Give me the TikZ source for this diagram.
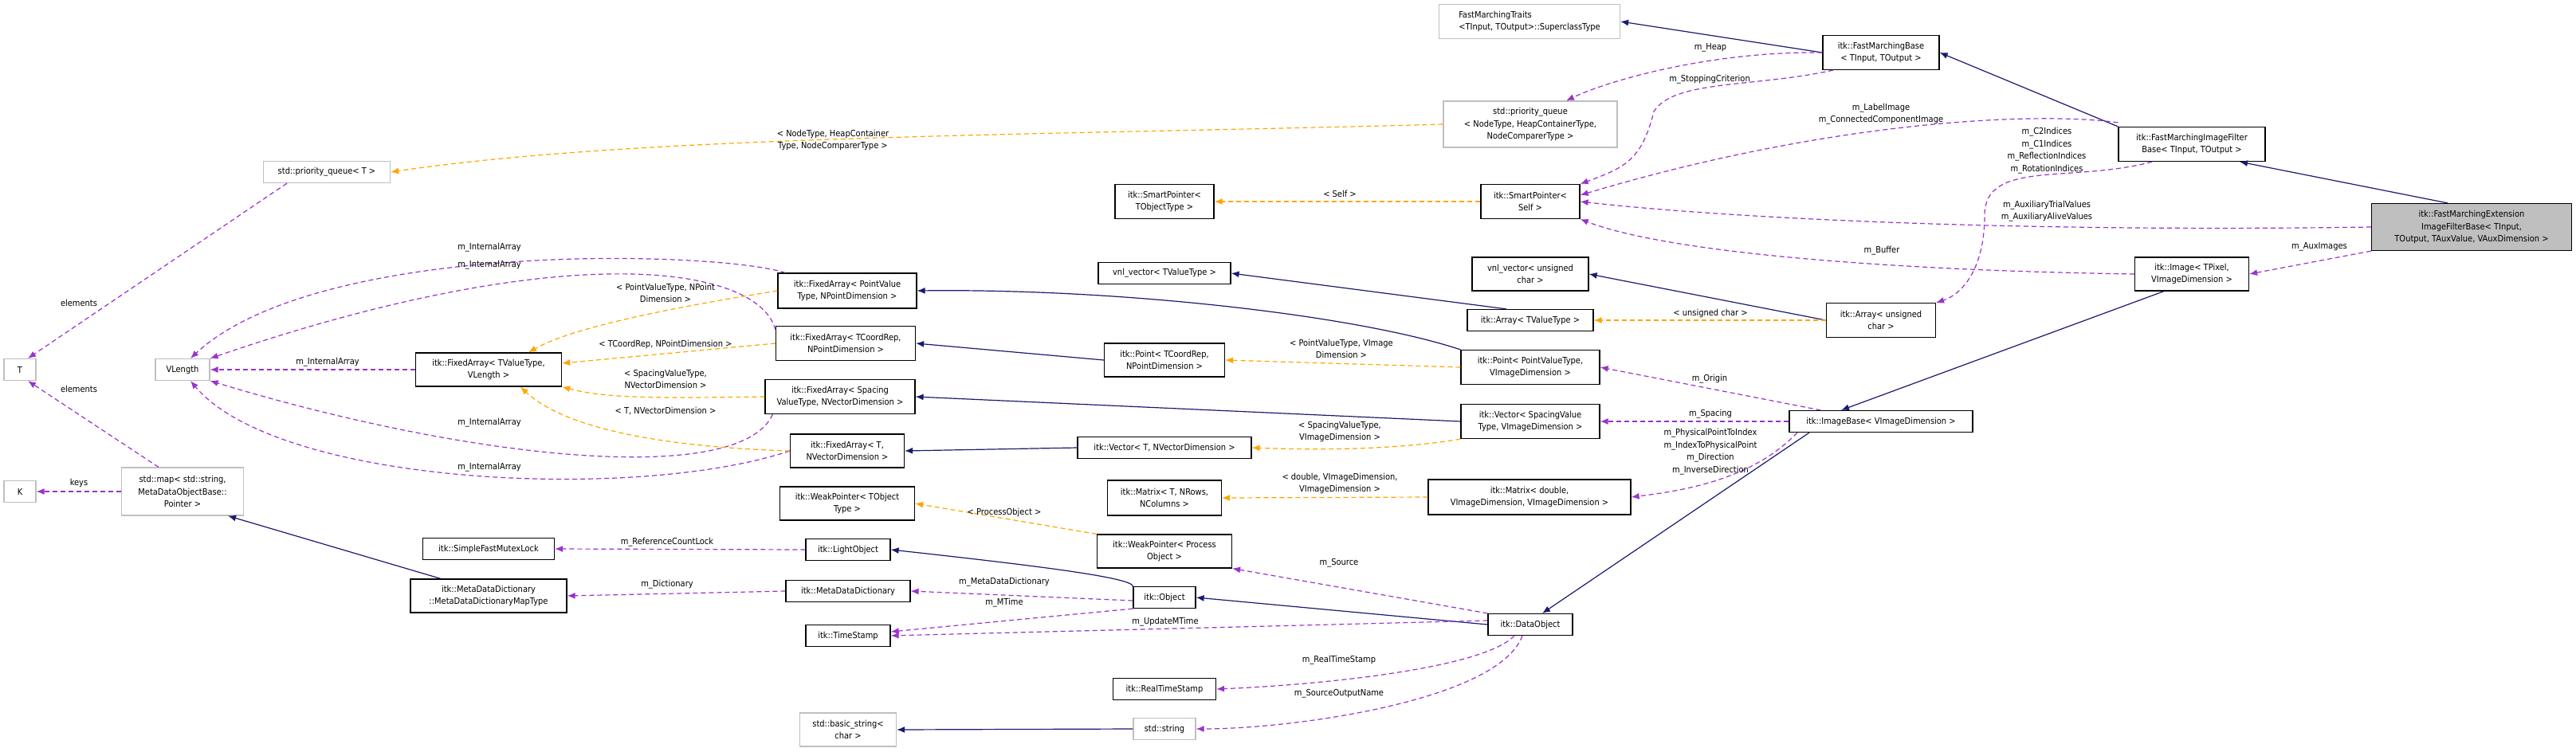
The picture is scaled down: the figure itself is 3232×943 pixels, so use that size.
\documentclass[tikz,border=0pt]{standalone}
\usepackage{fontspec}
\setmainfont{DejaVu Sans Condensed}
\usetikzlibrary{arrows.meta}
\definecolor{navy}{HTML}{191970}
\definecolor{purp}{HTML}{9A32CD}
\definecolor{orng}{HTML}{FFA500}
\definecolor{gbord}{HTML}{BFBFBF}
\definecolor{gfill}{HTML}{BFBFBF}
\begin{document}
\begin{tikzpicture}[x=1pt,y=-1pt,
  every node/.style={font=\fontsize{11}{15.5}\selectfont, inner sep=0pt},
  box/.style={draw=black, line width=1.2pt, fill=white, align=center},
  gbox/.style={draw=gbord, line width=1.2pt, fill=white, align=center},
  sel/.style={draw=black, line width=1.2pt, fill=gfill, align=center},
  inh/.style={draw=navy, line width=1.2pt, -{Latex[length=10pt,width=8pt]}},
  mem/.style={draw=purp, line width=1.2pt, dash pattern=on 6pt off 4pt, -{Latex[length=10pt,width=8pt]}},
  tmpl/.style={draw=orng, line width=1.2pt, dash pattern=on 6pt off 4pt, -{Latex[length=10pt,width=8pt]}},
  lbl/.style={align=center}]
\useasboundingbox (0,0) rectangle (3232,943);
% nodes
\node[gbox, minimum width=227, minimum height=43, align=left] (traits) at (1919,27) {FastMarchingTraits\\<TInput, TOutput>::SuperclassType};
\node[box, minimum width=146, minimum height=43] (fmb) at (2360,66) {itk::FastMarchingBase\\< TInput, TOutput >};
\node[gbox, minimum width=218, minimum height=58] (pqN) at (1920,156) {std::priority\_queue\\< NodeType, HeapContainerType,\\NodeComparerType >};
\node[gbox, minimum width=159, minimum height=27] (pqT) at (410,216) {std::priority\_queue< T >};
\node[box, minimum width=184, minimum height=43] (fmifb) at (2750,181) {itk::FastMarchingImageFilter\\Base< TInput, TOutput >};
\node[box, minimum width=124, minimum height=43] (spTO) at (1461,253) {itk::SmartPointer<\\TObjectType >};
\node[box, minimum width=124, minimum height=43] (spS) at (1920,253) {itk::SmartPointer<\\Self >};
\node[sel, minimum width=251, minimum height=59] (ext) at (3101,285) {itk::FastMarchingExtension\\ImageFilterBase< TInput,\\TOutput, TAuxValue, VAuxDimension >};
\node[box, minimum width=166, minimum height=27] (vnlTV) at (1461,343) {vnl\_vector< TValueType >};
\node[box, minimum width=146, minimum height=42] (vnlUC) at (1920,344) {vnl\_vector< unsigned\\char >};
\node[box, minimum width=143, minimum height=42] (img) at (2750,344) {itk::Image< TPixel,\\VImageDimension >};
\node[box, minimum width=158, minimum height=27] (arrTV) at (1920,402) {itk::Array< TValueType >};
\node[box, minimum width=137, minimum height=43] (arrUC) at (2360,402) {itk::Array< unsigned\\char >};
\node[box, minimum width=174, minimum height=44] (faPV) at (1063,365) {itk::FixedArray< PointValue\\Type, NPointDimension >};
\node[box, minimum width=175, minimum height=43] (faTC) at (1061,431) {itk::FixedArray< TCoordRep,\\NPointDimension >};
\node[box, minimum width=188, minimum height=43] (faSp) at (1054,498) {itk::FixedArray< Spacing\\ValueType, NVectorDimension >};
\node[box, minimum width=143, minimum height=42] (faT) at (1063,566) {itk::FixedArray< T,\\NVectorDimension >};
\node[box, minimum width=183, minimum height=42] (faTV) at (613,464) {itk::FixedArray< TValueType,\\VLength >};
\node[gbox, minimum width=40, minimum height=27] (T) at (25,464) {T};
\node[gbox, minimum width=68, minimum height=27] (VL) at (229,464) {VLength};
\node[gbox, minimum width=40, minimum height=27] (K) at (25,617) {K};
\node[gbox, minimum width=153, minimum height=60] (smap) at (229,617) {std::map< std::string,\\MetaDataObjectBase::\\Pointer >};
\node[box, minimum width=151, minimum height=42] (ptTC) at (1461,452) {itk::Point< TCoordRep,\\NPointDimension >};
\node[box, minimum width=174, minimum height=43] (ptPV) at (1920,461) {itk::Point< PointValueType,\\VImageDimension >};
\node[box, minimum width=174, minimum height=43] (vecSp) at (1920,529) {itk::Vector< SpacingValue\\Type, VImageDimension >};
\node[box, minimum width=230, minimum height=27] (ib) at (2360,529) {itk::ImageBase< VImageDimension >};
\node[box, minimum width=218, minimum height=27] (vecT) at (1461,562) {itk::Vector< T, NVectorDimension >};
\node[box, minimum width=143, minimum height=44] (matT) at (1461,625) {itk::Matrix< T, NRows,\\NColumns >};
\node[box, minimum width=254, minimum height=44] (matD) at (1919,624) {itk::Matrix< double,\\VImageDimension, VImageDimension >};
\node[box, minimum width=169, minimum height=42] (wpTO) at (1063,632) {itk::WeakPointer< TObject\\Type >};
\node[box, minimum width=169, minimum height=42] (wpPO) at (1461,692) {itk::WeakPointer< Process\\Object >};
\node[box, minimum width=165, minimum height=27] (mutex) at (613,689) {itk::SimpleFastMutexLock};
\node[box, minimum width=106, minimum height=27] (lo) at (1064,690) {itk::LightObject};
\node[box, minimum width=196, minimum height=42] (mdmap) at (613,748) {itk::MetaDataDictionary\\::MetaDataDictionaryMapType};
\node[box, minimum width=156, minimum height=27] (mdd) at (1064,742) {itk::MetaDataDictionary};
\node[box, minimum width=78, minimum height=27] (obj) at (1461,750) {itk::Object};
\node[box, minimum width=106, minimum height=27] (ts) at (1064,798) {itk::TimeStamp};
\node[box, minimum width=106, minimum height=27] (dobj) at (1920,784) {itk::DataObject};
\node[box, minimum width=129, minimum height=27] (rts) at (1461,865) {itk::RealTimeStamp};
\node[gbox, minimum width=121, minimum height=42] (bstr) at (1064,916) {std::basic\_string<\\char >};
\node[gbox, minimum width=78, minimum height=27] (str) at (1461,915) {std::string};
% inheritance
\draw[inh] (fmb.west) -- (traits.east);
\draw[inh] (fmifb.north west) -- (fmb.east);
\draw[inh] ([xshift=-30]ext.north) -- ([xshift=60]fmifb.south);
\draw[inh] ([xshift=-35]img.south) -- ([xshift=-50]ib.north);
\draw[inh] ([xshift=-90]ib.south) -- ([xshift=15]dobj.north);
\draw[inh] (dobj.west) -- (obj.east);
\draw[inh] (obj.north west) .. controls (1420,725) and (1300,710) .. (lo.east);
\draw[inh] (arrUC.west) -- (vnlUC.east);
\draw[inh] ([xshift=-30]arrTV.north) -- (vnlTV.east);
\draw[inh] (ptPV.north west) .. controls (1700,395) and (1400,362) .. (faPV.east);
\draw[inh] (ptTC.west) -- (faTC.east);
\draw[inh] (vecSp.west) -- (faSp.east);
\draw[inh] (vecT.west) -- (faT.east);
\draw[inh] ([xshift=-60]mdmap.north) -- ([xshift=-20]smap.south east);
\draw[inh] (str.west) -- (bstr.east);
% members
\draw[mem] (fmb.west) .. controls (2150,64) and (2020,100) .. ([xshift=45]pqN.north);
\draw[mem] ([xshift=-60]fmb.south) .. controls (2200,110) and (2100,100) .. (2075,140) .. controls (2060,200) and (2040,210) .. (spS.north east);
\draw[mem] ([yshift=5]fmifb.north west) .. controls (2560,140) and (2300,150) .. ([yshift=8]spS.east);
\draw[mem] ([xshift=-50]fmifb.south) .. controls (2600,230) and (2490,200) .. (2490,270) .. controls (2490,340) and (2460,370) .. (arrUC.north east);
\draw[mem] (ext.west) .. controls (2500,292) and (2150,272) .. (spS.east);
\draw[mem] (img.west) .. controls (2400,340) and (2100,320) .. (spS.south east);
\draw[mem] (ext.south west) -- (img.east);
\draw[mem] ([xshift=40]ib.north west) -- (ptPV.east);
\draw[mem] (ib.west) -- (vecSp.east);
\draw[mem] ([xshift=-105]ib.south) .. controls (2200,600) and (2120,615) .. (matD.east);
\draw[mem] (dobj.north west) -- (wpPO.south east);
\draw[mem] ([yshift=5]dobj.west) -- (ts.east);
\draw[mem] (obj.south west) -- ([yshift=5]ts.east);
\draw[mem] ([yshift=-4]obj.west) -- (mdd.east);
\draw[mem] ([xshift=-20]dobj.south) .. controls (1860,840) and (1650,860) .. (rts.east);
\draw[mem] ([xshift=-10]dobj.south) .. controls (1880,880) and (1620,915) .. (str.east);
\draw[mem] (lo.west) -- (mutex.east);
\draw[mem] (mdd.west) -- (mdmap.east);
\draw[mem] ([xshift=-30]smap.north) -- ([xshift=10]T.south);
\draw[mem] (smap.west) -- (K.east);
\draw[mem] ([xshift=-50]pqT.south) -- ([xshift=10]T.north);
\draw[mem] ([xshift=10]faPV.north west) .. controls (900,315) and (400,300) .. ([xshift=10]VL.north);
\draw[mem] ([yshift=-5]faTC.north west) .. controls (950,330) and (700,300) .. (VL.north east);
\draw[mem] (faTV.west) -- (VL.east);
\draw[mem] ([xshift=10]faSp.south west) .. controls (930,610) and (600,580) .. (VL.south east);
\draw[mem] (faT.west) .. controls (800,630) and (350,610) .. ([xshift=10]VL.south);
% templates
\draw[tmpl] (pqN.west) .. controls (1300,170) and (800,170) .. (pqT.east);
\draw[tmpl] (spS.west) -- (spTO.east);
\draw[tmpl] (arrUC.west |- arrTV.east) -- (arrTV.east);
\draw[tmpl] (ptPV.west) -- (ptTC.east);
\draw[tmpl] (vecSp.south west) .. controls (1750,565) and (1650,565) .. (vecT.east);
\draw[tmpl] (matD.west) -- (matT.east);
\draw[tmpl] (wpPO.north west) -- (wpTO.east);
\draw[tmpl] (faPV.west) .. controls (850,385) and (720,410) .. ([xshift=50]faTV.north);
\draw[tmpl] (faTC.west) -- ([yshift=8]faTV.east);
\draw[tmpl] (faSp.west) .. controls (820,500) and (760,500) .. (faTV.south east);
\draw[tmpl] (faT.west) .. controls (800,560) and (700,530) .. ([xshift=40]faTV.south);
% labels
\node[lbl] (l1) at (2146,60) {m\_Heap};
\node[lbl] (l2) at (2145,100) {m\_StoppingCriterion};
\node[lbl] (l3) at (2360,143) {m\_LabelImage\\m\_ConnectedComponentImage};
\node[lbl] (l4) at (2568,189) {m\_C2Indices\\m\_C1Indices\\m\_ReflectionIndices\\m\_RotationIndices};
\node[lbl] (l5) at (2568,265) {m\_AuxiliaryTrialValues\\m\_AuxiliaryAliveValues};
\node[lbl] (l6) at (2361,315) {m\_Buffer};
\node[lbl] (l7) at (2910,310) {m\_AuxImages};
\node[lbl] (l8) at (1045,176) {< NodeType, HeapContainer\\Type, NodeComparerType >};
\node[lbl] (l9) at (1681,243) {< Self >};
\node[lbl] (l10) at (2146,393) {< unsigned char >};
\node[lbl] (l11) at (1683,438) {< PointValueType, VImage\\Dimension >};
\node[lbl] (l12) at (2145,476) {m\_Origin};
\node[lbl] (l13) at (2146,520) {m\_Spacing};
\node[lbl] (l14) at (2146,567) {m\_PhysicalPointToIndex\\m\_IndexToPhysicalPoint\\m\_Direction\\m\_InverseDirection};
\node[lbl] (l15) at (1681,542) {< SpacingValueType,\\VImageDimension >};
\node[lbl] (l16) at (1681,607) {< double, VImageDimension,\\VImageDimension >};
\node[lbl] (l17) at (1260,643) {< ProcessObject >};
\node[lbl] (l18) at (1680,707) {m\_Source};
\node[lbl] (l19) at (837,681) {m\_ReferenceCountLock};
\node[lbl] (l20) at (1260,731) {m\_MetaDataDictionary};
\node[lbl] (l21) at (837,734) {m\_Dictionary};
\node[lbl] (l22) at (1260,757) {m\_MTime};
\node[lbl] (l23) at (1462,781) {m\_UpdateMTime};
\node[lbl] (l24) at (1680,829) {m\_RealTimeStamp};
\node[lbl] (l25) at (1680,871) {m\_SourceOutputName};
\node[lbl] (l26) at (99,380) {elements};
\node[lbl] (l27) at (99,488) {elements};
\node[lbl] (l28) at (99,606) {keys};
\node[lbl] (l29) at (614,311) {m\_InternalArray};
\node[lbl] (l30) at (614,333) {m\_InternalArray};
\node[lbl] (l31) at (411,455) {m\_InternalArray};
\node[lbl] (l32) at (614,531) {m\_InternalArray};
\node[lbl] (l33) at (614,587) {m\_InternalArray};
\node[lbl] (l34) at (835,368) {< PointValueType, NPoint\\Dimension >};
\node[lbl] (l35) at (835,432) {< TCoordRep, NPointDimension >};
\node[lbl] (l36) at (835,476) {< SpacingValueType,\\NVectorDimension >};
\node[lbl] (l37) at (835,516) {< T, NVectorDimension >};
\end{tikzpicture}
\end{document}
